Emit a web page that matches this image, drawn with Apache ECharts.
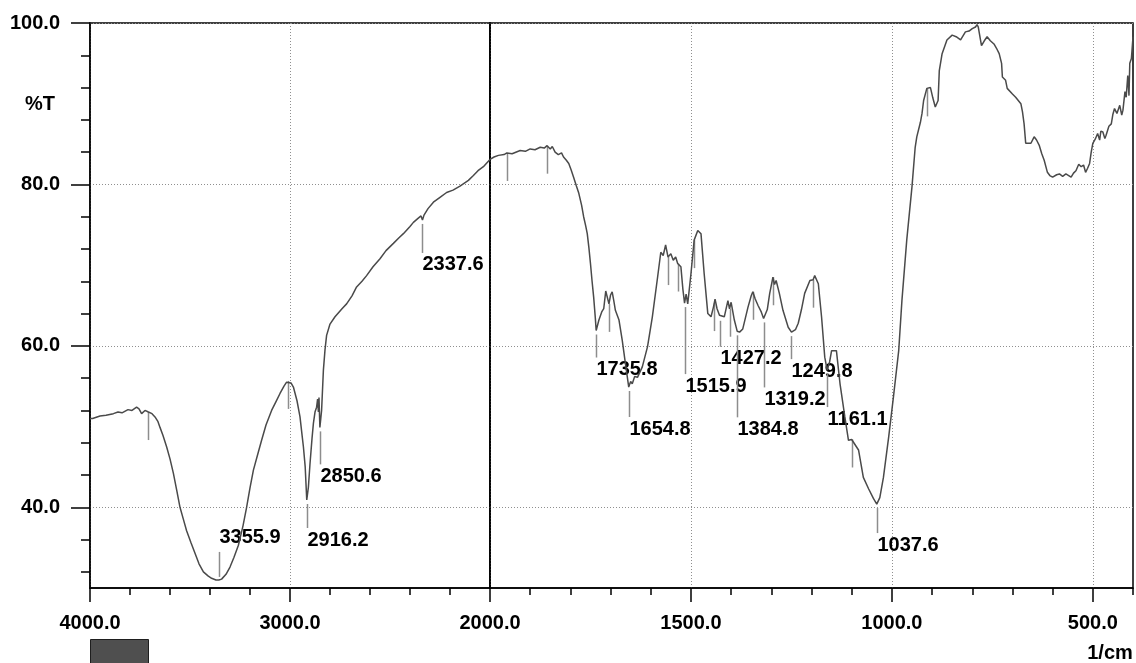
<!DOCTYPE html>
<html>
<head>
<meta charset="utf-8">
<title>FTIR spectrum</title>
<script src="https://cdn.jsdelivr.net/npm/echarts@6.0.0/dist/echarts.min.js"></script>
<style>
  html, body { margin: 0; padding: 0; background: #fff; }
  #main { width: 1136px; height: 663px; }
</style>
</head>
<body>
<div id="main"></div>
<script>
// spectrum, 4000 -> 2000 1/cm (compressed scale)
const spectrumHigh = [
  [4000, 51.0], [3987, 51.0], [3950, 51.3], [3920, 51.4], [3883, 51.6], [3860, 51.8], [3840, 51.7],
  [3810, 52.1], [3790, 52.0], [3767, 52.4], [3755, 52.2], [3742, 51.6], [3725, 52.0], [3708, 51.8],
  [3690, 51.6], [3675, 51.2], [3660, 50.6], [3650, 49.9], [3635, 48.9], [3617, 47.5], [3600, 46.0],
  [3583, 44.2], [3567, 42.2], [3550, 40.0], [3533, 38.5], [3517, 37.1], [3495, 35.6], [3475, 34.3],
  [3455, 33.0], [3433, 32.0], [3410, 31.5], [3392, 31.2], [3370, 31.0], [3355.9, 31.0], [3342, 31.1],
  [3320, 31.7], [3300, 32.6], [3280, 33.8], [3258, 35.3], [3235, 37.7], [3217, 40.0], [3200, 42.4],
  [3183, 44.6], [3162, 46.5], [3142, 48.3], [3120, 50.2], [3092, 52.0], [3070, 53.1], [3050, 54.1],
  [3030, 55.0], [3017, 55.5], [3008, 55.7], [2995, 55.4], [2983, 54.9], [2965, 53.2], [2950, 51.2],
  [2940, 49.0], [2933, 47.5], [2924, 45.0], [2916.2, 40.9], [2908, 42.5], [2900, 45.4], [2890, 48.5],
  [2883, 50.4], [2875, 51.8], [2867, 52.4], [2862, 53.4], [2858, 51.8], [2855, 53.6], [2850.6, 49.9],
  [2846, 51.0], [2842, 52.0], [2833, 57.0], [2825, 59.5], [2817, 61.3], [2800, 62.7], [2775, 63.6],
  [2740, 64.6], [2717, 65.2], [2690, 66.2], [2667, 67.3], [2640, 68.0], [2617, 68.7], [2585, 69.8],
  [2550, 70.8], [2520, 71.8], [2483, 72.7], [2455, 73.4], [2433, 73.9], [2400, 74.8], [2383, 75.3],
  [2360, 75.8], [2345, 76.1], [2337.6, 75.6], [2330, 76.2], [2310, 77.0], [2283, 77.8], [2250, 78.4],
  [2217, 79.0], [2185, 79.3], [2150, 79.8], [2108, 80.5], [2083, 81.1], [2060, 81.7], [2033, 82.2],
  [2015, 82.7], [2000, 83.1]
];

// spectrum, 2000 -> 400 1/cm (expanded scale)
const spectrumLow = [
  [2000, 83.1], [1990, 83.4], [1979, 83.6], [1965, 83.7], [1958, 83.9], [1945, 83.8], [1925, 84.2],
  [1912, 84.1], [1900, 84.4], [1888, 84.3], [1875, 84.6], [1865, 84.5], [1858, 84.8], [1850, 84.4],
  [1845, 84.7], [1838, 84.0], [1830, 83.7], [1822, 83.9], [1817, 83.4], [1810, 83.0], [1804, 82.6],
  [1798, 81.8], [1792, 80.9], [1785, 79.8], [1779, 78.9], [1772, 77.4], [1767, 76.0], [1762, 74.9],
  [1758, 73.9], [1754, 72.2], [1750, 70.2], [1746, 68.0], [1742, 66.0], [1738, 63.5], [1735.8, 61.9],
  [1729, 63.2], [1722, 64.2], [1717, 64.6], [1712, 66.8], [1708, 66.7], [1704, 65.2], [1700, 66.3],
  [1696, 66.7], [1692, 65.6], [1688, 64.4], [1679, 63.2], [1671, 60.7], [1663, 57.8], [1654.8, 54.9],
  [1650, 55.6], [1646, 55.3], [1640, 56.2], [1633, 56.1], [1621, 57.4], [1608, 59.9], [1596, 63.6],
  [1583, 68.5], [1575, 71.6], [1569, 71.2], [1563, 72.5], [1557, 71.0], [1550, 71.4], [1544, 70.6],
  [1538, 71.0], [1533, 70.2], [1525, 69.8], [1520, 67.0], [1515.9, 65.3], [1512, 66.4], [1508, 65.2],
  [1500, 68.9], [1492, 73.1], [1483, 74.3], [1475, 73.9], [1467, 68.9], [1458, 64.0], [1450, 63.6],
  [1444, 64.8], [1440, 65.8], [1435, 64.6], [1429, 63.8], [1427.2, 63.6], [1417, 63.6], [1408, 65.6],
  [1404, 64.6], [1400, 65.4], [1392, 63.2], [1384.8, 61.8], [1379, 61.7], [1371, 62.1], [1358, 64.8],
  [1350, 66.2], [1346, 66.7], [1340, 65.8], [1333, 65.0], [1325, 64.2], [1319.2, 63.4], [1315, 63.2],
  [1310, 64.5], [1304, 66.5], [1300, 67.5], [1296, 68.5], [1292, 67.6], [1288, 68.1], [1280, 66.5],
  [1271, 64.4], [1258, 62.3], [1249.8, 61.7], [1240, 62.0], [1233, 62.8], [1225, 64.5], [1217, 66.5],
  [1204, 68.1], [1196, 68.2], [1192, 68.7], [1183, 67.7], [1175, 63.6], [1167, 58.6], [1161.1, 57.0],
  [1155, 58.0], [1150, 59.4], [1146, 59.4], [1138, 59.4], [1129, 55.3], [1117, 51.2], [1108, 48.3],
  [1100, 48.4], [1096, 48.5], [1083, 47.1], [1071, 43.7], [1058, 42.3], [1046, 41.1], [1037.6, 40.4],
  [1030, 41.2], [1021, 43.7], [1008, 48.7], [996, 53.7], [983, 59.4], [975, 65.6], [963, 73.1],
  [950, 79.7], [942, 84.6], [938, 85.9], [929, 87.7], [925, 88.8], [921, 90.4], [913, 91.9],
  [904, 92.0], [898, 90.7], [892, 89.6], [885, 90.4], [882, 94.1], [875, 96.2], [863, 97.9],
  [850, 98.5], [840, 98.3], [829, 97.9], [817, 98.9], [808, 99.0], [800, 99.3], [792, 99.5],
  [788, 99.8], [785, 99.5], [777, 97.2], [770, 97.8], [763, 98.3], [755, 97.8], [746, 97.4],
  [740, 96.9], [733, 96.2], [727, 95.0], [725, 93.3], [717, 92.9], [713, 91.9], [700, 91.2],
  [692, 90.8], [679, 90.0], [675, 89.0], [671, 87.5], [667, 85.1], [660, 85.1], [654, 85.1],
  [646, 85.9], [640, 85.5], [633, 84.8], [627, 83.8], [621, 83.0], [613, 81.5], [607, 81.1],
  [600, 80.9], [590, 81.2], [583, 81.3], [575, 81.0], [567, 81.3], [560, 81.1], [554, 80.9],
  [548, 81.4], [542, 81.7], [535, 82.5], [529, 82.2], [523, 82.4], [518, 81.5], [513, 82.0],
  [508, 82.6], [504, 84.0], [500, 85.1], [494, 85.6], [488, 86.3], [483, 85.5], [480, 86.6],
  [475, 86.5], [470, 85.7], [467, 86.1], [460, 87.2], [454, 87.5], [450, 88.7], [446, 89.4],
  [440, 88.8], [433, 89.8], [428, 88.6], [425, 89.2], [420, 91.5], [417, 90.8], [413, 93.5],
  [410, 91.0], [408, 95.0], [404, 95.6], [400, 98.3]
];

// picked peaks (labelled) and the extra unlabelled peak marks
const peakLabels = ['3355.9', '2916.2', '2850.6', '2337.6', '1735.8', '1654.8', '1515.9',
  '1427.2', '1384.8', '1319.2', '1249.8', '1161.1', '1037.6'];
const minorPeaks = [3708, 3010, 1958, 1858, 1704, 1557, 1533, 1492, 1442, 1404, 1346, 1296, 1196, 1100, 913];

// axis ticks
const xMajorLow = [2000, 1500, 1000, 500];
const xMinorLow = [1900, 1800, 1700, 1600, 1400, 1300, 1200, 1100, 900, 800, 700, 600, 400];
const yMajor = [40, 60, 80, 100];
const yMinor = [32, 36, 44, 48, 52, 56, 64, 68, 72, 76, 84, 88, 92, 96];

// ---- drawing ----
const FONT = "'Liberation Sans', Arial, sans-serif";
const FONT_SIZE = 20;
const CURVE = '#4a4a4a';
const MARK = '#8d8d8d';
const GRIDLINE = { color: '#8f8f8f', type: [1, 2], width: 1 };
// marker length (px) under each labelled peak, negative = drawn above
const markerDrop = [-28, 28, 37, 33, 27, 30, 71, 30, 86, 69, 27, 37, 29];

function interp(data, w) {
  for (let i = 0; i < data.length - 1; i++) {
    const a = data[i], b = data[i + 1];
    if (w <= a[0] && w >= b[0]) {
      return a[1] + (b[1] - a[1]) * (a[0] - w) / (a[0] - b[0]);
    }
  }
  return data[data.length - 1][1];
}

const fmt = v => Number(v).toFixed(1);
const textStyle = { color: '#000', fontFamily: FONT, fontWeight: 'bold', fontSize: FONT_SIZE };

function buildMarks(lo, hi, data) {
  const rows = [];
  peakLabels.forEach((lab, i) => {
    const w = parseFloat(lab);
    if (w > lo && w <= hi) rows.push({ value: [w, interp(data, w)], label: lab, drop: markerDrop[i] });
  });
  minorPeaks.forEach(w => {
    if (w > lo && w <= hi) rows.push({ value: [w, interp(data, w)], label: null, drop: 28 });
  });
  return rows;
}

function markerRenderer(rows) {
  return function (params, api) {
    const row = rows[params.dataIndex];
    const p = api.coord([api.value(0), api.value(1)]);
    const x = Math.round(p[0]) + 0.5;
    const children = [];
    let y1, y2;
    if (row.drop < 0) {
      y1 = p[1] - 3; y2 = p[1] + row.drop;
    } else {
      y1 = p[1] + (row.label ? 4 : 0); y2 = p[1] + row.drop;
    }
    children.push({
      type: 'line',
      shape: { x1: x, y1: y1, x2: x, y2: y2 },
      style: { stroke: MARK, lineWidth: 1.5 }
    });
    if (row.label) {
      children.push({
        type: 'text',
        x: x,
        y: row.drop < 0 ? y2 - 4 : y2 + 2,
        style: {
          text: row.label, fill: '#000', fontFamily: FONT, fontWeight: 'bold', fontSize: FONT_SIZE,
          align: 'left', verticalAlign: row.drop < 0 ? 'bottom' : 'top'
        }
      });
    }
    return { type: 'group', children: children };
  };
}

const marksHigh = buildMarks(2000, 4000, spectrumHigh);
const marksLow = buildMarks(0, 2000, spectrumLow);

const chartDom = document.getElementById('main');
const myChart = echarts.init(chartDom);

const option = {
  animation: false,
  grid: [
    { left: 90, top: 23, width: 400, height: 565, show: true, borderColor: '#000', borderWidth: 1.5 },
    { left: 490, top: 23, width: 643, height: 565, show: true, borderColor: '#000', borderWidth: 1.5 }
  ],
  xAxis: [
    {
      gridIndex: 0, type: 'value', min: 2000, max: 4000, inverse: true, interval: 1000,
      axisLine: { lineStyle: { color: '#000', width: 1.5 } },
      axisTick: { length: 14, lineStyle: { color: '#000', width: 1.5 } },
      minorTick: { show: true, splitNumber: 5, length: 7, lineStyle: { color: '#000', width: 1.5 } },
      axisLabel: Object.assign({ margin: 25, formatter: v => (v === 2000 ? '' : fmt(v)) }, textStyle),
      splitLine: { show: true, lineStyle: GRIDLINE }
    },
    {
      gridIndex: 1, type: 'value', min: 400, max: 2000, inverse: true,
      axisLine: { lineStyle: { color: '#000', width: 1.5 } },
      axisTick: { customValues: xMajorLow, length: 14, lineStyle: { color: '#000', width: 1.5 } },
      axisLabel: Object.assign({ customValues: xMajorLow, margin: 25, formatter: fmt }, textStyle),
      splitLine: { show: true, lineStyle: GRIDLINE }
    },
    {
      gridIndex: 1, type: 'value', position: 'bottom', offset: 0, min: 400, max: 2000, inverse: true,
      axisLine: { show: false },
      axisTick: { customValues: xMinorLow, length: 7, lineStyle: { color: '#000', width: 1.5 } },
      axisLabel: { show: false },
      splitLine: { show: false }
    }
  ],
  yAxis: [
    {
      gridIndex: 0, type: 'value', min: 30, max: 100,
      axisLine: { show: true, lineStyle: { color: '#000', width: 1.5 } },
      axisTick: { show: true, customValues: yMajor, length: 19, lineStyle: { color: '#000', width: 1.5 } },
      axisLabel: Object.assign({ customValues: yMajor, margin: 30, formatter: fmt }, textStyle),
      splitLine: { show: true, lineStyle: GRIDLINE }
    },
    {
      gridIndex: 0, type: 'value', position: 'left', offset: 0, min: 30, max: 100,
      axisLine: { show: false },
      axisTick: { show: true, customValues: yMinor, length: 9, lineStyle: { color: '#000', width: 1.5 } },
      axisLabel: { show: false },
      splitLine: { show: false }
    },
    {
      gridIndex: 1, type: 'value', position: 'left', min: 30, max: 100,
      axisLine: { show: true, lineStyle: { color: '#000', width: 1.5 } },
      axisTick: { show: false, customValues: yMajor },
      axisLabel: { show: false },
      splitLine: { show: true, lineStyle: GRIDLINE }
    }
  ],
  graphic: [
    {
      type: 'text', x: 40, y: 104,
      style: { text: '%T', fill: '#000', fontFamily: FONT, fontWeight: 'bold', fontSize: FONT_SIZE, align: 'center', verticalAlign: 'middle' }
    },
    {
      type: 'text', x: 1110, y: 653,
      style: { text: '1/cm', fill: '#000', fontFamily: FONT, fontWeight: 'bold', fontSize: FONT_SIZE, align: 'center', verticalAlign: 'middle' }
    },
    {
      type: 'rect', shape: { x: 90.5, y: 639.5, width: 58, height: 30 },
      style: { fill: '#4f4f4f', stroke: '#1e1e1e', lineWidth: 1 }
    }
  ],
  series: [
    {
      type: 'line', xAxisIndex: 0, yAxisIndex: 0, data: spectrumHigh,
      showSymbol: false, symbol: 'none', lineStyle: { color: CURVE, width: 1.5 }, z: 3
    },
    {
      type: 'line', xAxisIndex: 1, yAxisIndex: 2, data: spectrumLow,
      showSymbol: false, symbol: 'none', lineStyle: { color: CURVE, width: 1.5 }, z: 3
    },
    {
      type: 'custom', xAxisIndex: 0, yAxisIndex: 0, silent: true, z: 2,
      data: marksHigh.map(r => r.value), renderItem: markerRenderer(marksHigh)
    },
    {
      type: 'custom', xAxisIndex: 1, yAxisIndex: 2, silent: true, z: 2,
      data: marksLow.map(r => r.value), renderItem: markerRenderer(marksLow)
    }
  ]
};

myChart.setOption(option);
</script>
</body>
</html>
